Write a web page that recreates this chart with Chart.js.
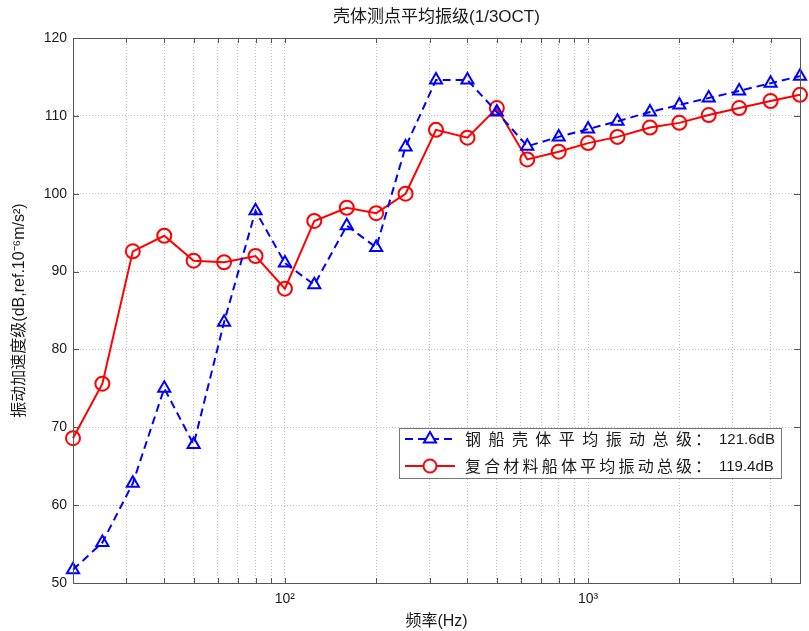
<!DOCTYPE html>
<html>
<head>
<meta charset="utf-8">
<title>壳体测点平均振级</title>
<script src="https://cdn.jsdelivr.net/npm/chart.js@4.4.1/dist/chart.umd.min.js"></script>
<style>
  html, body { margin: 0; padding: 0; background: #fff; }
</style>
</head>
<body>
<canvas id="vibChart" width="809" height="631"></canvas>
<script>
// 1/3 octave band centre frequencies (Hz)
const freqs = [20, 25, 31.5, 40, 50, 63, 80, 100, 125, 160, 200, 250, 315, 400, 500, 630, 800, 1000, 1250, 1600, 2000, 2500, 3150, 4000, 5000];
// steel hull, averaged vibration acceleration level (dB)
const steelHull = [51.7, 55.2, 62.8, 75.0, 67.8, 83.5, 97.8, 91.1, 88.3, 95.9, 93.1, 106.0, 114.6, 114.6, 110.5, 106.1, 107.3, 108.3, 109.3, 110.5, 111.4, 112.3, 113.2, 114.2, 115.1];
// composite hull
const compositeHull = [68.6, 75.6, 92.6, 94.6, 91.4, 91.2, 92.0, 87.8, 96.5, 98.2, 97.5, 100.0, 108.2, 107.2, 111.0, 104.4, 105.4, 106.5, 107.3, 108.5, 109.1, 110.1, 111.0, 111.9, 112.7];

const seriesNames = ['钢船壳体平均振动总级', '复合材料船体平均振动总级'];
const seriesTotals = ['121.6dB', '119.4dB'];

const xGridTicks = [20, 30, 40, 50, 60, 70, 80, 90, 100, 200, 300, 400, 500, 600, 700, 800, 900, 1000, 2000, 3000, 4000, 5000];
const xLabels = { 100: '10²', 1000: '10³' };
const yTicks = [50, 60, 70, 80, 90, 100, 110, 120];

const FONT = '"Liberation Sans", Arial, "Noto Sans CJK SC", sans-serif';
const TEXT = '#1a1a1a';
const AXIS = '#555';

// axes box + small inward tick marks, like a matlab figure
const boxPlugin = {
  id: 'box',
  afterDatasetsDraw(chart) {
    const { ctx, chartArea: a, scales } = chart;
    ctx.save();
    ctx.strokeStyle = AXIS;
    ctx.lineWidth = 1;
    ctx.beginPath();
    xGridTicks.forEach(v => {
      const x = Math.round(scales.x.getPixelForValue(v)) + 0.5;
      ctx.moveTo(x, a.bottom); ctx.lineTo(x, a.bottom - 5);
      ctx.moveTo(x, a.top); ctx.lineTo(x, a.top + 5);
    });
    yTicks.forEach(v => {
      const y = Math.round(scales.y.getPixelForValue(v)) + 0.5;
      ctx.moveTo(a.left, y); ctx.lineTo(a.left + 6, y);
      ctx.moveTo(a.right, y); ctx.lineTo(a.right - 6, y);
    });
    ctx.stroke();
    ctx.strokeRect(Math.round(a.left) + 0.5, Math.round(a.top) + 0.5, Math.round(a.right - a.left), Math.round(a.bottom - a.top));
    ctx.restore();
  }
};

// spread CJK characters evenly between x0 and x1
function drawSpread(ctx, text, x0, x1, y) {
  const chars = Array.from(text);
  const last = ctx.measureText(chars[chars.length - 1]).width;
  const step = chars.length > 1 ? (x1 - last - x0) / (chars.length - 1) : 0;
  chars.forEach((c, i) => ctx.fillText(c, x0 + i * step, y));
}

const legendPlugin = {
  id: 'boxLegend',
  afterDraw(chart) {
    const { ctx, chartArea: a } = chart;
    const right = a.right - 19, bottom = a.bottom - 105;
    const left = right - 382, top = bottom - 50;
    ctx.save();
    ctx.fillStyle = '#fff';
    ctx.fillRect(left, top, right - left, bottom - top);
    ctx.strokeStyle = '#777';
    ctx.lineWidth = 1;
    ctx.strokeRect(Math.round(left) + 0.5, Math.round(top) + 0.5, right - left, bottom - top);

    chart.data.datasets.forEach((ds, i) => {
      const y = top + 11 + i * 27;
      const lx0 = left + 6, lx1 = left + 56, mx = (lx0 + lx1) / 2;
      ctx.strokeStyle = ds.borderColor;
      ctx.lineWidth = 2;
      ctx.setLineDash(ds.borderDash || []);
      ctx.beginPath(); ctx.moveTo(lx0, y); ctx.lineTo(lx1, y); ctx.stroke();
      ctx.setLineDash([]);
      ctx.beginPath();
      if (ds.pointStyle === 'triangle') {
        const r = 7;
        ctx.moveTo(mx, y - r);
        ctx.lineTo(mx + r * 0.866, y + r * 0.5);
        ctx.lineTo(mx - r * 0.866, y + r * 0.5);
        ctx.closePath();
      } else {
        ctx.arc(mx, y, 6.5, 0, Math.PI * 2);
      }
      ctx.fillStyle = '#fff';
      ctx.fill();
      ctx.stroke();

      ctx.fillStyle = TEXT;
      ctx.textBaseline = 'middle';
      ctx.font = '16px "Noto Sans CJK SC", sans-serif';
      drawSpread(ctx, seriesNames[i], left + 66, left + 293, y);
      ctx.fillText('：', left + 296, y);
      ctx.font = '15px ' + FONT;
      ctx.fillText(seriesTotals[i], left + 320, y + 1);
    });
    ctx.restore();
  }
};

const ctx = document.getElementById('vibChart').getContext('2d');
new Chart(ctx, {
  type: 'line',
  data: {
    datasets: [
      {
        label: seriesNames[0],
        data: freqs.map((f, i) => ({ x: f, y: steelHull[i] })),
        borderColor: '#0000ff',
        borderWidth: 2,
        borderDash: [8, 5],
        pointStyle: 'triangle',
        pointRadius: 7,
        pointBorderWidth: 2,
        pointBackgroundColor: 'rgba(0,0,0,0)',
        pointBorderColor: '#0000ff',
        tension: 0,
        clip: false
      },
      {
        label: seriesNames[1],
        data: freqs.map((f, i) => ({ x: f, y: compositeHull[i] })),
        borderColor: '#ff0000',
        borderWidth: 2,
        pointStyle: 'circle',
        pointRadius: 7,
        pointBorderWidth: 2,
        pointBackgroundColor: 'rgba(0,0,0,0)',
        pointBorderColor: '#ff0000',
        tension: 0,
        clip: false
      }
    ]
  },
  options: {
    responsive: false,
    animation: false,
    devicePixelRatio: 1,
    layout: { padding: { left: 0, right: 6, top: 0, bottom: 0 } },
    plugins: {
      legend: { display: false },
      tooltip: { enabled: false },
      title: {
        display: true,
        fullSize: false,
        text: '壳体测点平均振级(1/3OCT)',
        color: TEXT,
        font: { family: FONT, size: 17, weight: 'normal', lineHeight: 1.2 },
        padding: { top: 7, bottom: 10.6 }
      }
    },
    scales: {
      x: {
        type: 'logarithmic',
        min: 20,
        max: 5000,
        afterBuildTicks: s => { s.ticks = xGridTicks.map(v => ({ value: v })); },
        afterFit: s => { s.height = 48; },
        ticks: {
          autoSkip: false,
          maxRotation: 0,
          padding: 8,
          color: TEXT,
          font: { family: FONT, size: 14 },
          callback: v => xLabels[v] || ''
        },
        grid: { color: '#bdbdbd', lineWidth: 1, drawTicks: false },
        border: { display: true, color: AXIS, dash: [1, 2] },
        title: {
          display: true,
          text: '频率(Hz)',
          color: TEXT,
          font: { family: FONT, size: 16 },
          padding: { top: 0, bottom: 0 }
        }
      },
      y: {
        min: 50,
        max: 120,
        afterBuildTicks: s => { s.ticks = yTicks.map(v => ({ value: v })); },
        afterFit: s => { s.width = 73; },
        ticks: {
          padding: 6,
          color: TEXT,
          font: { family: FONT, size: 14 }
        },
        grid: { color: '#bdbdbd', lineWidth: 1, drawTicks: false },
        border: { display: true, color: AXIS, dash: [1, 2] },
        title: {
          display: true,
          text: '振动加速度级(dB,ref.10⁻⁶m/s²)',
          color: TEXT,
          font: { family: FONT, size: 16 },
          padding: { top: 10, bottom: 0 }
        }
      }
    }
  },
  plugins: [boxPlugin, legendPlugin]
});
</script>
</body>
</html>
